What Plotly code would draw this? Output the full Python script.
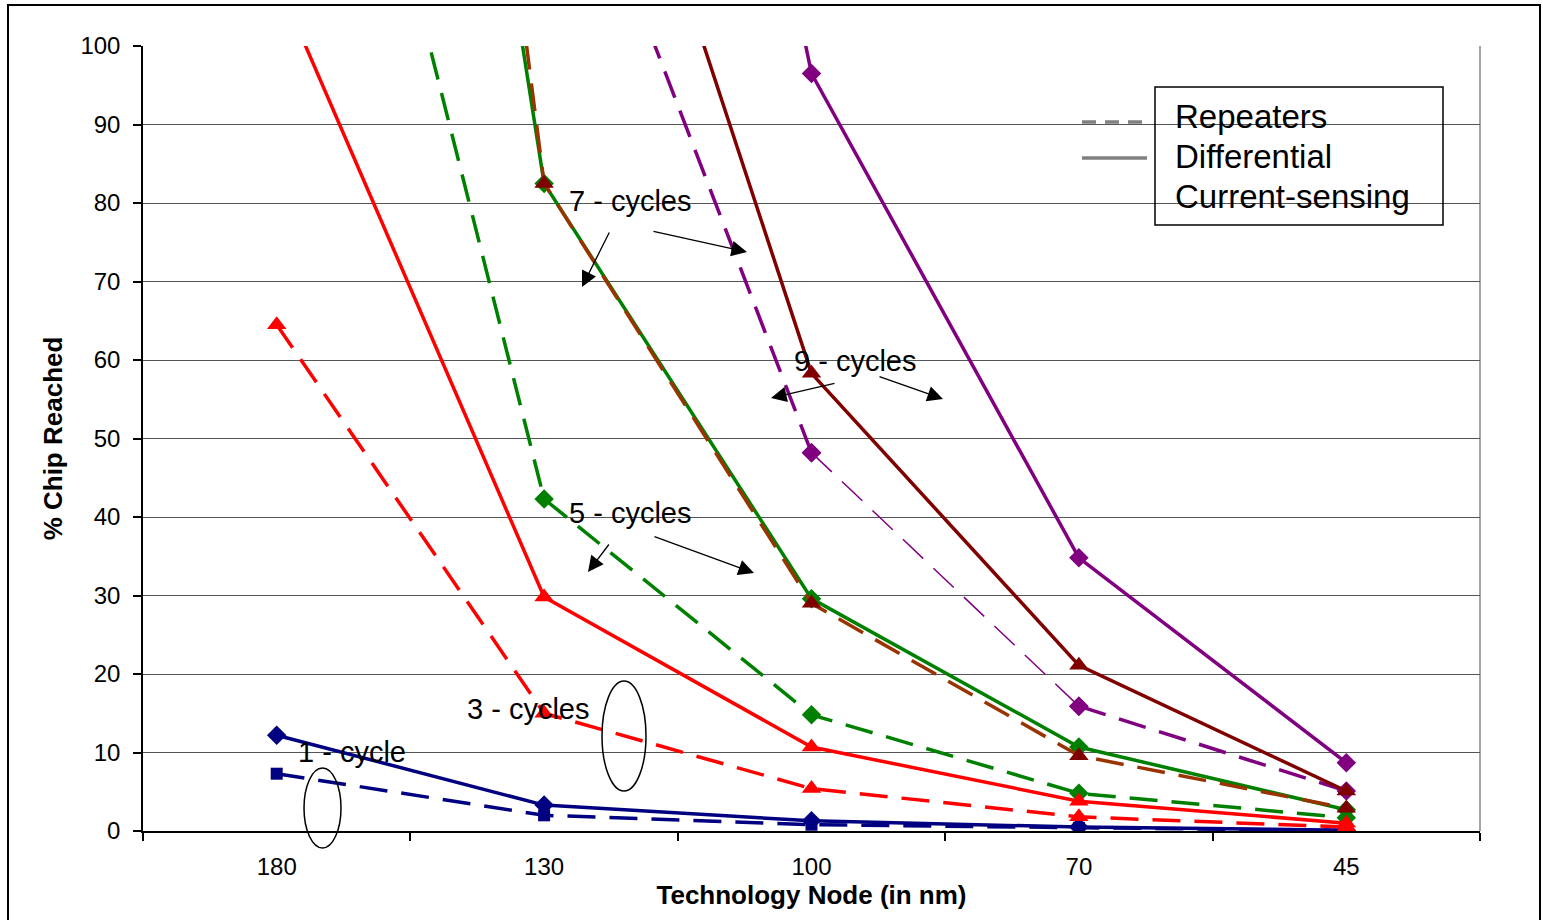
import plotly.graph_objects as go

# ---------------- data ----------------
nodes = ["180", "130", "100", "70", "45"]

rep1 = [7.3, 2.0, 0.8, 0.4, 0.05]
diff1 = [12.2, 3.3, 1.3, 0.5, 0.1]
rep3 = [64.5, 15.0, 5.4, 1.8, 0.5]
diff3 = [108.5, 29.8, 10.7, 3.8, 1.0]
rep5 = [177.0, 42.3, 14.8, 4.8, 1.7]
diff5 = [300.0, 82.5, 29.6, 10.7, 2.7]
rep7 = [350.0, 82.5, 29.0, 9.6, 2.9]
diff7 = [None, 162.0, 58.3, 21.1, 5.1]
rep9 = [None, 136.7, 48.2, 15.9, 5.1]
diff9 = [None, 260.0, 96.5, 34.8, 8.7]

legend_labels = ["Repeaters", "Differential", "Current-sensing"]
cycle_labels = ["1 - cycle", "3 - cycles", "5 - cycles", "7 - cycles", "9 - cycles"]

NAVY, RED, GREEN, BROWN, MAROON, PURPLE = "#000080", "#FF0000", "#008000", "#993300", "#800000", "#800080"
DASH = "28px,14px"
FONT = "Liberation Sans, Arial, sans-serif"
LW = 3.5
DIA, TRI, SQ = 15, 17, 12

# ---------------- layout geometry (pixels) ----------------
W, H = 1543, 920
L, R, T, B = 143, 1480, 46, 831


def P(px, py):
    return (px - L) / (R - L), (B - py) / (B - T)


fig = go.Figure()


def add(y, color, dash, symbol, msize, width=LW, mcolor=None, x=None):
    fig.add_trace(go.Scatter(
        x=x if x is not None else nodes, y=y, mode="lines+markers",
        line=dict(color=color, width=width, dash=dash),
        marker=dict(symbol=symbol, size=msize, color=mcolor or color),
        showlegend=False, hoverinfo="x+y",
    ))


# navy (1 cycle)
add(rep1, NAVY, DASH, "square", SQ)
add(diff1, NAVY, "solid", "diamond", DIA)
# purple (9 cycles) - middle repeater segment drawn thinner as in the original
add(rep9[:3], PURPLE, DASH, "diamond", DIA, x=nodes[:3])
add(rep9[2:4], PURPLE, DASH, "diamond", DIA, width=1.5, x=nodes[2:4])
add(rep9[3:], PURPLE, DASH, "diamond", DIA, x=nodes[3:])
add(diff9, PURPLE, "solid", "diamond", DIA)
# green (5 cycles)
add(rep5, GREEN, DASH, "diamond", DIA)
add(diff5, GREEN, "solid", "diamond", DIA)
# brown (7 cycles)
add(rep7, BROWN, DASH, "triangle-up", TRI, mcolor=MAROON)
add(diff7, MAROON, "solid", "triangle-up", TRI)
# red (3 cycles)
add(rep3, RED, DASH, "triangle-up", TRI)
add(diff3, RED, "solid", "triangle-up", TRI)

shapes = []
ann = []

# outer border
x0, y1 = P(8, 5)
x1, y0 = P(1540, 940)
shapes.append(dict(type="rect", xref="paper", yref="paper", x0=x0, y0=y0, x1=x1, y1=y1,
                   line=dict(color="black", width=2), layer="below"))
# right plot edge
shapes.append(dict(type="line", xref="paper", yref="paper", x0=1, x1=1, y0=0, y1=1,
                   line=dict(color="#888888", width=1.5), layer="below"))

# ellipses
for (a, b, c, d) in [(304, 768, 341, 848), (602, 681, 646, 791)]:
    ex0, ey1 = P(a, b)
    ex1, ey0 = P(c, d)
    shapes.append(dict(type="circle", xref="paper", yref="paper", x0=ex0, y0=ey0, x1=ex1, y1=ey1,
                       line=dict(color="black", width=1.5)))

# legend box and sample lines
bx0, by1 = P(1155, 87)
bx1, by0 = P(1443, 225)
shapes.append(dict(type="rect", xref="paper", yref="paper", x0=bx0, y0=by0, x1=bx1, y1=by1,
                   line=dict(color="black", width=1.5)))
lx0, ly = P(1082, 122)
lx1, _ = P(1147, 122)
shapes.append(dict(type="line", xref="paper", yref="paper", x0=lx0, x1=lx1, y0=ly, y1=ly,
                   line=dict(color="#808080", width=3.5, dash="14px,9px")))
_, ly2 = P(1082, 158)
shapes.append(dict(type="line", xref="paper", yref="paper", x0=lx0, x1=lx1, y0=ly2, y1=ly2,
                   line=dict(color="#808080", width=3.5)))

for lab, py in zip(legend_labels, [117, 157, 197]):
    ax_, ay_ = P(1173, py)
    ann.append(dict(xref="paper", yref="paper", x=ax_, y=ay_, text=lab, showarrow=False,
                    xanchor="left", yanchor="middle", font=dict(size=33, color="black", family=FONT)))

# cycle labels
for lab, (cx, cy) in zip(cycle_labels, [(352, 752), (528, 709), (630, 513), (630, 201), (855, 361)]):
    px_, py_ = P(cx, cy)
    ann.append(dict(xref="paper", yref="paper", x=px_, y=py_, text=lab, showarrow=False,
                    xanchor="center", yanchor="middle", font=dict(size=29, color="black", family=FONT)))

# arrows (tip, tail)
arrows = [((582, 287), (610, 231)), ((747, 252), (652, 231)),
          ((588, 572), (610, 543)), ((754, 573), (653, 536)),
          ((771, 398), (836, 383)), ((943, 399), (878, 376))]
for (tx, ty), (sx, sy) in arrows:
    px_, py_ = P(tx, ty)
    ann.append(dict(xref="paper", yref="paper", x=px_, y=py_, text="", showarrow=True,
                    ax=sx - tx, ay=sy - ty, arrowhead=2, arrowsize=2.4, arrowwidth=1.3,
                    arrowcolor="black", standoff=0, startstandoff=0))

fig.update_layout(
    width=W, height=H,
    margin=dict(l=L, r=W - R, t=T, b=H - B, pad=0),
    paper_bgcolor="white", plot_bgcolor="white",
    font=dict(family=FONT, size=24, color="black"),
    shapes=shapes, annotations=ann,
    xaxis=dict(
        type="category", categoryorder="array", categoryarray=nodes,
        range=[-0.5, 4.5], tickson="boundaries",
        showgrid=False, showline=True, linecolor="black", linewidth=1.5,
        ticks="outside", ticklen=8, tickcolor="black", tickwidth=1.5,
        tickfont=dict(size=24), ticklabelstandoff=13,
        title=dict(text="<b>Technology Node (in nm)</b>", font=dict(size=26), standoff=6),
    ),
    yaxis=dict(
        range=[0, 100], dtick=10, tick0=0,
        showgrid=True, gridcolor="#555555", gridwidth=1,
        showline=True, linecolor="black", linewidth=1.5, zeroline=False,
        ticks="outside", ticklen=8, tickcolor="black", tickwidth=1.5,
        tickfont=dict(size=24), ticklabelstandoff=8,
        title=dict(text="<b>% Chip Reached</b>", font=dict(size=26), standoff=10),
    ),
)

fig.write_html("out.html", config={"displayModeBar": False},
               post_script="document.body.style.margin='0';document.body.style.overflow='hidden';")
